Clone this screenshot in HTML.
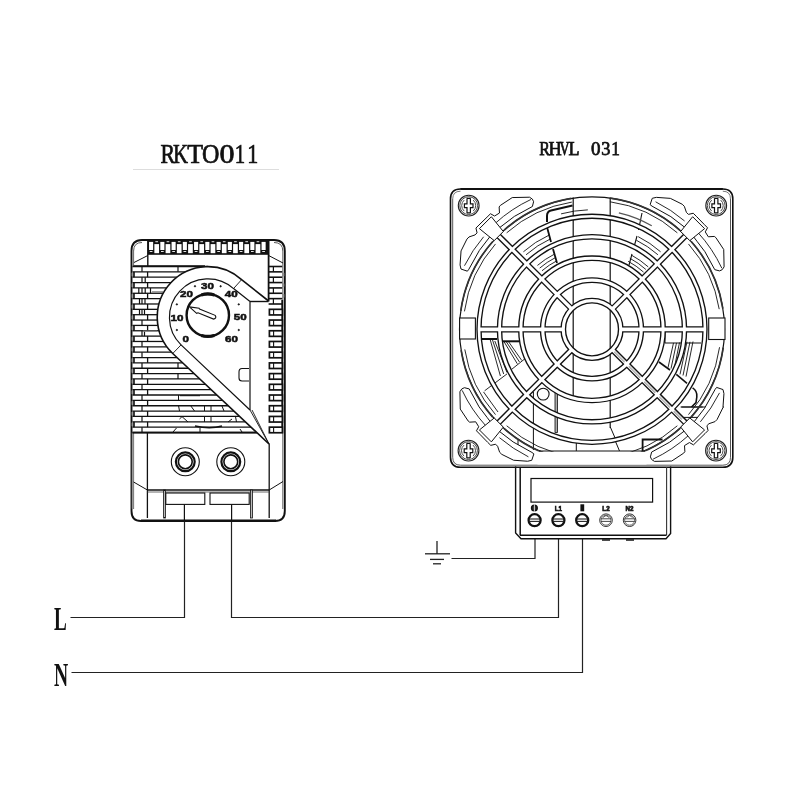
<!DOCTYPE html>
<html><head><meta charset="utf-8"><style>
html,body{margin:0;padding:0;font-family:"Liberation Sans",sans-serif;background:#fff;width:800px;height:800px;overflow:hidden}
svg{display:block;will-change:transform}
.sf{font-family:"Liberation Serif",serif}
</style></head><body>
<svg width="800" height="800" viewBox="0 0 800 800">
<rect width="800" height="800" fill="#fff"/>
<path d="M70.5 617.5 H184.5 V521" stroke="#222" stroke-width="1.2" fill="none"/><path d="M231.5 521 V617.5 H558.5 V539" stroke="#222" stroke-width="1.2" fill="none"/><path d="M71.5 672.5 H582.5 V539" stroke="#222" stroke-width="1.2" fill="none"/><path d="M451.5 558.5 H535 V539" stroke="#222" stroke-width="1.2" fill="none"/><line x1="437" y1="541" x2="437" y2="554" stroke="#222" stroke-width="1.3"/><line x1="425" y1="553.8" x2="450" y2="553.8" stroke="#222" stroke-width="1.3"/><line x1="430" y1="559.4" x2="444" y2="559.4" stroke="#222" stroke-width="1.3"/><line x1="433" y1="563.8" x2="441" y2="563.8" stroke="#222" stroke-width="1.3"/><path d="M131.5 251 Q131.5 240 142 240 H274 Q284.8 240 284.8 251 V511 Q284.8 521 275 521 H141 Q131.5 521 131.5 511 Z" stroke="#111" stroke-width="1.9" fill="none"/><line x1="133.6" y1="251" x2="133.6" y2="266" stroke="#555" stroke-width="0.9"/><line x1="133.6" y1="432" x2="133.6" y2="509" stroke="#555" stroke-width="0.9"/><rect x="131.8" y="432.6" width="1.6" height="76" rx="0" stroke="none" stroke-width="0" fill="#999"/><line x1="282.8" y1="251" x2="282.8" y2="509" stroke="#555" stroke-width="0.9"/><path d="M133.6 251 Q133.6 242.5 142 242.5" stroke="#444" stroke-width="0.9" fill="none"/><path d="M282.8 251 Q282.8 242.5 274 242.5" stroke="#444" stroke-width="0.9" fill="none"/><line x1="147.8" y1="241" x2="147.8" y2="266" stroke="#111" stroke-width="1.4"/><line x1="268.6" y1="241" x2="268.6" y2="301.5" stroke="#111" stroke-width="1.8"/><rect x="147.8" y="240" width="120.8" height="14.8" rx="0" stroke="#111" stroke-width="0" fill="#111"/><rect x="149.05" y="241.9" width="4.1" height="8.1" rx="0" stroke="none" stroke-width="0" fill="#fff"/><rect x="149.75" y="251.0" width="2.7" height="0.9" rx="0" stroke="none" stroke-width="0" fill="#fff"/><rect x="154.35" y="244.1" width="4.7" height="9.1" rx="0" stroke="none" stroke-width="0" fill="#fff"/><rect x="155.35" y="241.3" width="2.7" height="0.9" rx="0" stroke="none" stroke-width="0" fill="#fff"/><rect x="160.3" y="241.9" width="4.1" height="8.1" rx="0" stroke="none" stroke-width="0" fill="#fff"/><rect x="161.0" y="251.0" width="2.7" height="0.9" rx="0" stroke="none" stroke-width="0" fill="#fff"/><rect x="165.6" y="244.1" width="4.7" height="9.1" rx="0" stroke="none" stroke-width="0" fill="#fff"/><rect x="166.6" y="241.3" width="2.7" height="0.9" rx="0" stroke="none" stroke-width="0" fill="#fff"/><rect x="171.55" y="241.9" width="4.1" height="8.1" rx="0" stroke="none" stroke-width="0" fill="#fff"/><rect x="172.25" y="251.0" width="2.7" height="0.9" rx="0" stroke="none" stroke-width="0" fill="#fff"/><rect x="176.85" y="244.1" width="4.7" height="9.1" rx="0" stroke="none" stroke-width="0" fill="#fff"/><rect x="177.85" y="241.3" width="2.7" height="0.9" rx="0" stroke="none" stroke-width="0" fill="#fff"/><rect x="182.8" y="241.9" width="4.1" height="8.1" rx="0" stroke="none" stroke-width="0" fill="#fff"/><rect x="183.5" y="251.0" width="2.7" height="0.9" rx="0" stroke="none" stroke-width="0" fill="#fff"/><rect x="188.1" y="244.1" width="4.7" height="9.1" rx="0" stroke="none" stroke-width="0" fill="#fff"/><rect x="189.1" y="241.3" width="2.7" height="0.9" rx="0" stroke="none" stroke-width="0" fill="#fff"/><rect x="194.05" y="241.9" width="4.1" height="8.1" rx="0" stroke="none" stroke-width="0" fill="#fff"/><rect x="194.75" y="251.0" width="2.7" height="0.9" rx="0" stroke="none" stroke-width="0" fill="#fff"/><rect x="199.35" y="244.1" width="4.7" height="9.1" rx="0" stroke="none" stroke-width="0" fill="#fff"/><rect x="200.35" y="241.3" width="2.7" height="0.9" rx="0" stroke="none" stroke-width="0" fill="#fff"/><rect x="205.3" y="241.9" width="4.1" height="8.1" rx="0" stroke="none" stroke-width="0" fill="#fff"/><rect x="206.0" y="251.0" width="2.7" height="0.9" rx="0" stroke="none" stroke-width="0" fill="#fff"/><rect x="210.6" y="244.1" width="4.7" height="9.1" rx="0" stroke="none" stroke-width="0" fill="#fff"/><rect x="211.6" y="241.3" width="2.7" height="0.9" rx="0" stroke="none" stroke-width="0" fill="#fff"/><rect x="216.55" y="241.9" width="4.1" height="8.1" rx="0" stroke="none" stroke-width="0" fill="#fff"/><rect x="217.25" y="251.0" width="2.7" height="0.9" rx="0" stroke="none" stroke-width="0" fill="#fff"/><rect x="221.85" y="244.1" width="4.7" height="9.1" rx="0" stroke="none" stroke-width="0" fill="#fff"/><rect x="222.85" y="241.3" width="2.7" height="0.9" rx="0" stroke="none" stroke-width="0" fill="#fff"/><rect x="227.8" y="241.9" width="4.1" height="8.1" rx="0" stroke="none" stroke-width="0" fill="#fff"/><rect x="228.5" y="251.0" width="2.7" height="0.9" rx="0" stroke="none" stroke-width="0" fill="#fff"/><rect x="233.1" y="244.1" width="4.7" height="9.1" rx="0" stroke="none" stroke-width="0" fill="#fff"/><rect x="234.1" y="241.3" width="2.7" height="0.9" rx="0" stroke="none" stroke-width="0" fill="#fff"/><rect x="239.05" y="241.9" width="4.1" height="8.1" rx="0" stroke="none" stroke-width="0" fill="#fff"/><rect x="239.75" y="251.0" width="2.7" height="0.9" rx="0" stroke="none" stroke-width="0" fill="#fff"/><rect x="244.35" y="244.1" width="4.7" height="9.1" rx="0" stroke="none" stroke-width="0" fill="#fff"/><rect x="245.35" y="241.3" width="2.7" height="0.9" rx="0" stroke="none" stroke-width="0" fill="#fff"/><rect x="250.3" y="241.9" width="4.1" height="8.1" rx="0" stroke="none" stroke-width="0" fill="#fff"/><rect x="251.0" y="251.0" width="2.7" height="0.9" rx="0" stroke="none" stroke-width="0" fill="#fff"/><rect x="255.6" y="244.1" width="4.7" height="9.1" rx="0" stroke="none" stroke-width="0" fill="#fff"/><rect x="256.6" y="241.3" width="2.7" height="0.9" rx="0" stroke="none" stroke-width="0" fill="#fff"/><rect x="261.55" y="241.9" width="4.1" height="8.1" rx="0" stroke="none" stroke-width="0" fill="#fff"/><rect x="262.25" y="251.0" width="2.7" height="0.9" rx="0" stroke="none" stroke-width="0" fill="#fff"/><line x1="134" y1="262.5" x2="147.8" y2="255.5" stroke="#111" stroke-width="1.0"/><line x1="268.6" y1="255.5" x2="283" y2="263" stroke="#111" stroke-width="1.0"/><line x1="133.6" y1="266" x2="205" y2="266" stroke="#111" stroke-width="1.6"/><line x1="132.5" y1="266.5" x2="207.8" y2="266.5" stroke="#111" stroke-width="1.3"/><line x1="142" y1="266.5" x2="142" y2="271.855" stroke="#111" stroke-width="1.2"/><line x1="178" y1="266.5" x2="178" y2="271.855" stroke="#111" stroke-width="1.2"/><line x1="132.5" y1="271.855" x2="185.57206768500492" y2="271.855" stroke="#111" stroke-width="1.3"/><line x1="147.6" y1="271.855" x2="147.6" y2="277.21" stroke="#111" stroke-width="1.3"/><rect x="133.1" y="271.855" width="1.7" height="5.354999999999961" rx="0" stroke="none" stroke-width="0" fill="#111"/><rect x="131.6" y="272.755" width="1.5" height="3.5549999999999615" rx="0" stroke="none" stroke-width="0" fill="#999"/><line x1="132.5" y1="277.21" x2="176.96090306121144" y2="277.21" stroke="#111" stroke-width="1.3"/><line x1="142" y1="277.21" x2="142" y2="282.565" stroke="#111" stroke-width="1.2"/><line x1="145.2" y1="277.21" x2="145.2" y2="282.565" stroke="#111" stroke-width="1.2"/><line x1="132.5" y1="282.565" x2="171.04858131990005" y2="282.565" stroke="#111" stroke-width="1.3"/><line x1="147.6" y1="282.565" x2="147.6" y2="287.92" stroke="#111" stroke-width="1.3"/><rect x="133.1" y="282.565" width="1.7" height="5.355000000000018" rx="0" stroke="none" stroke-width="0" fill="#111"/><rect x="131.6" y="283.465" width="1.5" height="3.5550000000000184" rx="0" stroke="none" stroke-width="0" fill="#999"/><line x1="132.5" y1="287.92" x2="166.65474997037933" y2="287.92" stroke="#111" stroke-width="1.3"/><line x1="142" y1="287.92" x2="142" y2="293.275" stroke="#111" stroke-width="1.2"/><line x1="138.8" y1="287.92" x2="138.8" y2="293.275" stroke="#111" stroke-width="1.2"/><line x1="145.2" y1="287.92" x2="145.2" y2="293.275" stroke="#111" stroke-width="1.2"/><line x1="150.5" y1="287.92" x2="150.5" y2="293.275" stroke="#111" stroke-width="1.2"/><line x1="132.5" y1="293.275" x2="163.32703770828843" y2="293.275" stroke="#111" stroke-width="1.3"/><line x1="147.6" y1="293.275" x2="147.6" y2="298.63" stroke="#111" stroke-width="1.3"/><rect x="133.1" y="293.275" width="1.7" height="5.355000000000018" rx="0" stroke="none" stroke-width="0" fill="#111"/><rect x="131.6" y="294.17499999999995" width="1.5" height="3.5550000000000184" rx="0" stroke="none" stroke-width="0" fill="#999"/><line x1="132.5" y1="298.63" x2="160.83825918899515" y2="298.63" stroke="#111" stroke-width="1.3"/><line x1="142" y1="298.63" x2="142" y2="303.985" stroke="#111" stroke-width="1.2"/><line x1="139.5" y1="298.63" x2="139.5" y2="303.985" stroke="#111" stroke-width="1.2"/><line x1="145" y1="298.63" x2="145" y2="303.985" stroke="#111" stroke-width="1.2"/><line x1="132.5" y1="303.985" x2="159.05973148412085" y2="303.985" stroke="#111" stroke-width="1.3"/><line x1="147.6" y1="303.985" x2="147.6" y2="309.34000000000003" stroke="#111" stroke-width="1.3"/><rect x="133.1" y="303.985" width="1.7" height="5.355000000000018" rx="0" stroke="none" stroke-width="0" fill="#111"/><rect x="131.6" y="304.885" width="1.5" height="3.5550000000000184" rx="0" stroke="none" stroke-width="0" fill="#999"/><line x1="132.5" y1="309.34000000000003" x2="157.9154292390924" y2="309.34000000000003" stroke="#111" stroke-width="1.3"/><line x1="142" y1="309.34000000000003" x2="142" y2="314.695" stroke="#111" stroke-width="1.2"/><line x1="139.5" y1="309.34000000000003" x2="139.5" y2="314.695" stroke="#111" stroke-width="1.2"/><line x1="144.5" y1="309.34000000000003" x2="144.5" y2="314.695" stroke="#111" stroke-width="1.2"/><line x1="132.5" y1="314.695" x2="157.3621672253853" y2="314.695" stroke="#111" stroke-width="1.3"/><line x1="147.6" y1="314.695" x2="147.6" y2="320.05" stroke="#111" stroke-width="1.3"/><rect x="133.1" y="314.695" width="1.7" height="5.355000000000018" rx="0" stroke="none" stroke-width="0" fill="#111"/><rect x="131.6" y="315.59499999999997" width="1.5" height="3.5550000000000184" rx="0" stroke="none" stroke-width="0" fill="#999"/><line x1="132.5" y1="320.05" x2="157.38048492894842" y2="320.05" stroke="#111" stroke-width="1.3"/><line x1="142" y1="320.05" x2="142" y2="325.405" stroke="#111" stroke-width="1.2"/><line x1="132.5" y1="325.405" x2="157.9710127034474" y2="325.405" stroke="#111" stroke-width="1.3"/><line x1="147.6" y1="325.405" x2="147.6" y2="330.76" stroke="#111" stroke-width="1.3"/><rect x="133.1" y="325.405" width="1.7" height="5.355000000000018" rx="0" stroke="none" stroke-width="0" fill="#111"/><rect x="131.6" y="326.30499999999995" width="1.5" height="3.5550000000000184" rx="0" stroke="none" stroke-width="0" fill="#999"/><line x1="132.5" y1="330.76" x2="159.15458500536766" y2="330.76" stroke="#111" stroke-width="1.3"/><line x1="142" y1="330.76" x2="142" y2="336.115" stroke="#111" stroke-width="1.2"/><line x1="144.5" y1="330.76" x2="144.5" y2="336.115" stroke="#111" stroke-width="1.2"/><line x1="132.5" y1="336.115" x2="160.97615164256575" y2="336.115" stroke="#111" stroke-width="1.3"/><line x1="147.6" y1="336.115" x2="147.6" y2="341.47" stroke="#111" stroke-width="1.3"/><rect x="133.1" y="336.115" width="1.7" height="5.355000000000018" rx="0" stroke="none" stroke-width="0" fill="#111"/><rect x="131.6" y="337.015" width="1.5" height="3.5550000000000184" rx="0" stroke="none" stroke-width="0" fill="#999"/><line x1="132.5" y1="341.47" x2="163.51436914754407" y2="341.47" stroke="#111" stroke-width="1.3"/><line x1="142" y1="341.47" x2="142" y2="346.825" stroke="#111" stroke-width="1.2"/><line x1="132.5" y1="346.825" x2="166.902452701904" y2="346.825" stroke="#111" stroke-width="1.3"/><line x1="147.6" y1="346.825" x2="147.6" y2="352.18" stroke="#111" stroke-width="1.3"/><rect x="133.1" y="346.825" width="1.7" height="5.355000000000018" rx="0" stroke="none" stroke-width="0" fill="#111"/><rect x="131.6" y="347.72499999999997" width="1.5" height="3.5550000000000184" rx="0" stroke="none" stroke-width="0" fill="#999"/><line x1="132.5" y1="352.18" x2="171.3767986030882" y2="352.18" stroke="#111" stroke-width="1.3"/><line x1="142" y1="352.18" x2="142" y2="357.535" stroke="#111" stroke-width="1.2"/><line x1="132.5" y1="357.535" x2="176.98536220217042" y2="357.535" stroke="#111" stroke-width="1.3"/><line x1="147.6" y1="357.535" x2="147.6" y2="362.89" stroke="#111" stroke-width="1.3"/><rect x="133.1" y="357.535" width="1.7" height="5.354999999999961" rx="0" stroke="none" stroke-width="0" fill="#111"/><rect x="131.6" y="358.435" width="1.5" height="3.5549999999999615" rx="0" stroke="none" stroke-width="0" fill="#999"/><line x1="132.5" y1="362.89" x2="182.68406555505743" y2="362.89" stroke="#111" stroke-width="1.3"/><line x1="142" y1="362.89" x2="142" y2="368.245" stroke="#111" stroke-width="1.2"/><line x1="178" y1="362.89" x2="178" y2="368.245" stroke="#111" stroke-width="1.2"/><line x1="132.5" y1="368.245" x2="188.3827689079445" y2="368.245" stroke="#111" stroke-width="1.3"/><line x1="147.6" y1="368.245" x2="147.6" y2="373.6" stroke="#111" stroke-width="1.3"/><rect x="133.1" y="368.245" width="1.7" height="5.355000000000018" rx="0" stroke="none" stroke-width="0" fill="#111"/><rect x="131.6" y="369.145" width="1.5" height="3.5550000000000184" rx="0" stroke="none" stroke-width="0" fill="#999"/><line x1="132.5" y1="373.6" x2="194.08147226083153" y2="373.6" stroke="#111" stroke-width="1.3"/><line x1="142" y1="373.6" x2="142" y2="378.95500000000004" stroke="#111" stroke-width="1.2"/><line x1="178" y1="373.6" x2="178" y2="378.95500000000004" stroke="#111" stroke-width="1.2"/><line x1="132.5" y1="378.95500000000004" x2="199.7801756137186" y2="378.95500000000004" stroke="#111" stroke-width="1.3"/><line x1="147.6" y1="378.95500000000004" x2="147.6" y2="384.31" stroke="#111" stroke-width="1.3"/><rect x="133.1" y="378.95500000000004" width="1.7" height="5.354999999999961" rx="0" stroke="none" stroke-width="0" fill="#111"/><rect x="131.6" y="379.855" width="1.5" height="3.5549999999999615" rx="0" stroke="none" stroke-width="0" fill="#999"/><line x1="132.5" y1="384.31" x2="205.47887896660558" y2="384.31" stroke="#111" stroke-width="1.3"/><line x1="142" y1="384.31" x2="142" y2="389.665" stroke="#111" stroke-width="1.2"/><line x1="132.5" y1="389.665" x2="211.17758231949264" y2="389.665" stroke="#111" stroke-width="1.3"/><line x1="147.6" y1="389.665" x2="147.6" y2="395.02" stroke="#111" stroke-width="1.3"/><rect x="133.1" y="389.665" width="1.7" height="5.354999999999961" rx="0" stroke="none" stroke-width="0" fill="#111"/><rect x="131.6" y="390.565" width="1.5" height="3.5549999999999615" rx="0" stroke="none" stroke-width="0" fill="#999"/><line x1="132.5" y1="395.02" x2="216.87628567237962" y2="395.02" stroke="#111" stroke-width="1.3"/><line x1="142" y1="395.02" x2="142" y2="400.375" stroke="#111" stroke-width="1.2"/><line x1="132.5" y1="400.375" x2="222.5749890252667" y2="400.375" stroke="#111" stroke-width="1.3"/><line x1="147.6" y1="400.375" x2="147.6" y2="405.73" stroke="#111" stroke-width="1.3"/><rect x="133.1" y="400.375" width="1.7" height="5.355000000000018" rx="0" stroke="none" stroke-width="0" fill="#111"/><rect x="131.6" y="401.275" width="1.5" height="3.5550000000000184" rx="0" stroke="none" stroke-width="0" fill="#999"/><line x1="132.5" y1="405.73" x2="228.27369237815373" y2="405.73" stroke="#111" stroke-width="1.3"/><line x1="142" y1="405.73" x2="142" y2="411.08500000000004" stroke="#111" stroke-width="1.2"/><line x1="132.5" y1="411.08500000000004" x2="233.9723957310408" y2="411.08500000000004" stroke="#111" stroke-width="1.3"/><line x1="147.6" y1="411.08500000000004" x2="147.6" y2="416.44" stroke="#111" stroke-width="1.3"/><rect x="133.1" y="411.08500000000004" width="1.7" height="5.354999999999961" rx="0" stroke="none" stroke-width="0" fill="#111"/><rect x="131.6" y="411.985" width="1.5" height="3.5549999999999615" rx="0" stroke="none" stroke-width="0" fill="#999"/><line x1="132.5" y1="416.44" x2="239.6710990839278" y2="416.44" stroke="#111" stroke-width="1.3"/><line x1="142" y1="416.44" x2="142" y2="421.795" stroke="#111" stroke-width="1.2"/><line x1="132.5" y1="421.795" x2="245.36980243681484" y2="421.795" stroke="#111" stroke-width="1.3"/><line x1="147.6" y1="421.795" x2="147.6" y2="427.15" stroke="#111" stroke-width="1.3"/><rect x="133.1" y="421.795" width="1.7" height="5.354999999999961" rx="0" stroke="none" stroke-width="0" fill="#111"/><rect x="131.6" y="422.695" width="1.5" height="3.5549999999999615" rx="0" stroke="none" stroke-width="0" fill="#999"/><line x1="132.5" y1="427.15" x2="251.06850578970185" y2="427.15" stroke="#111" stroke-width="1.3"/><line x1="142" y1="427.15" x2="142" y2="432.505" stroke="#111" stroke-width="1.2"/><line x1="132.5" y1="432.505" x2="256.7672091425889" y2="432.505" stroke="#111" stroke-width="1.3"/><line x1="132.5" y1="432.6" x2="269" y2="432.6" stroke="#111" stroke-width="1.8"/><rect x="152" y="291.2" width="11" height="1.6" rx="0" stroke="none" stroke-width="0" fill="#888"/><rect x="143" y="330.6" width="14" height="1.2" rx="0" stroke="none" stroke-width="0" fill="#888"/><line x1="178.5" y1="395" x2="178.5" y2="400.3" stroke="#111" stroke-width="1.0"/><line x1="180" y1="395.7" x2="200" y2="395.7" stroke="#111" stroke-width="1.0"/><line x1="178.5" y1="405.5" x2="179.5" y2="411" stroke="#111" stroke-width="1.0"/><line x1="190.5" y1="405.5" x2="194.5" y2="411" stroke="#111" stroke-width="1.0"/><line x1="204.5" y1="406" x2="204.5" y2="411" stroke="#111" stroke-width="1.0"/><line x1="211" y1="406" x2="211" y2="411" stroke="#111" stroke-width="1.0"/><line x1="224" y1="411" x2="222" y2="406" stroke="#111" stroke-width="1.0"/><line x1="179.5" y1="419" x2="182" y2="416.6" stroke="#111" stroke-width="1.0"/><line x1="182" y1="416.6" x2="188" y2="422" stroke="#111" stroke-width="1.0"/><line x1="204.5" y1="416.6" x2="204.5" y2="422" stroke="#111" stroke-width="1.0"/><line x1="211" y1="416.6" x2="211" y2="422" stroke="#111" stroke-width="1.0"/><line x1="228" y1="422" x2="232" y2="419" stroke="#111" stroke-width="1.0"/><line x1="235.5" y1="416.6" x2="236.5" y2="422" stroke="#111" stroke-width="1.0"/><line x1="173" y1="432" x2="176.5" y2="428" stroke="#111" stroke-width="1.0"/><line x1="200" y1="428" x2="200" y2="432" stroke="#111" stroke-width="1.0"/><line x1="240" y1="429" x2="242" y2="432" stroke="#111" stroke-width="1.0"/><path d="M195 426 Q210 429.5 222 426" stroke="#111" stroke-width="1.6" fill="none"/><path d="M269 444 L172.72 353.53 A50.5 50.5 0 0 1 241.59 279.67 L268.6 301" stroke="#111" stroke-width="1.6" fill="#fff"/><path d="M250 410 L181.06 344.89 A38.5 38.5 0 0 1 233.56 288.59 L250 301.5" stroke="#111" stroke-width="1.2" fill="none"/><line x1="181.05565273732861" y1="344.89458231303803" x2="172.71975229182064" y2="353.5266599171019" stroke="#111" stroke-width="0.9"/><line x1="233.56152834481605" y1="288.5889242191203" x2="241.59109562112235" y2="279.67118631339156" stroke="#111" stroke-width="0.9"/><line x1="250" y1="301.5" x2="268.6" y2="301.5" stroke="#111" stroke-width="1.4"/><line x1="250" y1="301.5" x2="250" y2="410" stroke="#111" stroke-width="1.2"/><path d="M250 410 L269 444 L252 410" stroke="#111" stroke-width="0.9" fill="none"/><path d="M249 368.5 H242 Q239 368.5 239 372 V378 Q239 381 242 381 H249" stroke="#111" stroke-width="1.1" fill="none"/><circle cx="207.8" cy="315.2" r="21.2" stroke="#111" stroke-width="2.4" fill="none"/><path d="M201.3 295.0 A21.2 21.2 0 0 1 214.3 295.0" stroke="#111" stroke-width="3.2" fill="none"/><path d="M201.3 335.4 A21.2 21.2 0 0 0 214.3 335.4" stroke="#111" stroke-width="3.2" fill="none"/><path transform="translate(189.4 306.9) rotate(22.4)" d="M0 0 L9.5 -2.4 L10.2 -1.9 L27 -2.0 Q30 0 27 2.1 L10.2 2.1 L9.2 3.2 Z" stroke="#111" stroke-width="1.1" fill="#fff"/><text x="0" y="2.5" transform="translate(185.8 339.3) scale(1.13 0.92)" style="font-family:&quot;Liberation Sans&quot;,sans-serif" font-size="10.3" font-weight="bold" text-anchor="middle" fill="#111" stroke="#111" stroke-width="0.55">0</text><text x="0" y="2.5" transform="translate(177 318.3) scale(1.13 0.92)" style="font-family:&quot;Liberation Sans&quot;,sans-serif" font-size="10.3" font-weight="bold" text-anchor="middle" fill="#111" stroke="#111" stroke-width="0.55">10</text><text x="0" y="2.5" transform="translate(186.6 294.6) scale(1.13 0.92)" style="font-family:&quot;Liberation Sans&quot;,sans-serif" font-size="10.3" font-weight="bold" text-anchor="middle" fill="#111" stroke="#111" stroke-width="0.55">20</text><text x="0" y="2.5" transform="translate(207.5 286.2) scale(1.13 0.92)" style="font-family:&quot;Liberation Sans&quot;,sans-serif" font-size="10.3" font-weight="bold" text-anchor="middle" fill="#111" stroke="#111" stroke-width="0.55">30</text><text x="0" y="2.5" transform="translate(231.2 294.6) scale(1.13 0.92)" style="font-family:&quot;Liberation Sans&quot;,sans-serif" font-size="10.3" font-weight="bold" text-anchor="middle" fill="#111" stroke="#111" stroke-width="0.55">40</text><text x="0" y="2.5" transform="translate(240.3 317.2) scale(1.13 0.92)" style="font-family:&quot;Liberation Sans&quot;,sans-serif" font-size="10.3" font-weight="bold" text-anchor="middle" fill="#111" stroke="#111" stroke-width="0.55">50</text><text x="0" y="2.5" transform="translate(231.5 339.2) scale(1.13 0.92)" style="font-family:&quot;Liberation Sans&quot;,sans-serif" font-size="10.3" font-weight="bold" text-anchor="middle" fill="#111" stroke="#111" stroke-width="0.55">60</text><circle cx="176.8500356608719" cy="330.0198949842305" r="0.7" stroke="#111" stroke-width="0.8" fill="#111"/><circle cx="176.8500356608719" cy="304.38010501576946" r="0.7" stroke="#111" stroke-width="0.8" fill="#111"/><circle cx="194.9801050157695" cy="286.2500356608719" r="0.7" stroke="#111" stroke-width="0.8" fill="#111"/><circle cx="220.61989498423054" cy="286.2500356608719" r="0.7" stroke="#111" stroke-width="0.8" fill="#111"/><circle cx="238.74996433912813" cy="304.3801050157695" r="0.7" stroke="#111" stroke-width="0.8" fill="#111"/><circle cx="238.74996433912813" cy="330.0198949842305" r="0.7" stroke="#111" stroke-width="0.8" fill="#111"/><line x1="147.4" y1="432.6" x2="147.4" y2="518" stroke="#111" stroke-width="1.3"/><line x1="269.2" y1="443.8" x2="269.2" y2="518" stroke="#111" stroke-width="1.3"/><line x1="133.6" y1="482" x2="147.4" y2="490" stroke="#111" stroke-width="1.0"/><line x1="283" y1="481.5" x2="269.2" y2="490" stroke="#111" stroke-width="1.0"/><line x1="147.4" y1="490" x2="269.2" y2="490" stroke="#111" stroke-width="1.6"/><line x1="147.4" y1="492" x2="269.2" y2="492" stroke="#444" stroke-width="0.8"/><rect x="163.6" y="490" width="1.9" height="28" rx="0" stroke="#111" stroke-width="0.8" fill="#bbb"/><rect x="250.5" y="490" width="1.9" height="28" rx="0" stroke="#111" stroke-width="0.8" fill="#bbb"/><rect x="165.8" y="493" width="39" height="11.4" rx="0" stroke="#111" stroke-width="1.1" fill="none"/><rect x="210" y="493" width="39.2" height="11.4" rx="0" stroke="#111" stroke-width="1.1" fill="none"/><line x1="184.4" y1="504.4" x2="184.4" y2="521" stroke="#111" stroke-width="1.2"/><line x1="231.6" y1="504.4" x2="231.6" y2="521" stroke="#111" stroke-width="1.2"/><line x1="141" y1="520.8" x2="276" y2="520.8" stroke="#111" stroke-width="2.4"/><circle cx="185.3" cy="461.8" r="14.0" stroke="#111" stroke-width="1.1" fill="none"/><circle cx="185.3" cy="461.8" r="9.4" stroke="#111" stroke-width="2.2" fill="none"/><circle cx="185.3" cy="461.8" r="6.9" stroke="#111" stroke-width="1.6" fill="none"/><circle cx="230.8" cy="461.8" r="14.0" stroke="#111" stroke-width="1.1" fill="none"/><circle cx="230.8" cy="461.8" r="9.4" stroke="#111" stroke-width="2.2" fill="none"/><circle cx="230.8" cy="461.8" r="6.9" stroke="#111" stroke-width="1.6" fill="none"/><line x1="282.2" y1="300" x2="282.2" y2="433" stroke="#111" stroke-width="1.8"/><line x1="268.6" y1="266.5" x2="282.2" y2="266.5" stroke="#111" stroke-width="1.6"/><line x1="273.4" y1="266.5" x2="273.4" y2="271.855" stroke="#111" stroke-width="1.2"/><line x1="268.6" y1="271.855" x2="282.2" y2="271.855" stroke="#111" stroke-width="1.6"/><rect x="282.6" y="273.055" width="1.5" height="2.9549999999999614" rx="0" stroke="#888" stroke-width="0.5" fill="#999"/><line x1="268.6" y1="277.21" x2="282.2" y2="277.21" stroke="#111" stroke-width="1.6"/><line x1="273.4" y1="277.21" x2="273.4" y2="282.565" stroke="#111" stroke-width="1.2"/><line x1="268.6" y1="282.565" x2="282.2" y2="282.565" stroke="#111" stroke-width="1.6"/><rect x="282.6" y="283.765" width="1.5" height="2.9550000000000183" rx="0" stroke="#888" stroke-width="0.5" fill="#999"/><line x1="268.6" y1="287.92" x2="282.2" y2="287.92" stroke="#111" stroke-width="1.6"/><line x1="273.4" y1="287.92" x2="273.4" y2="293.275" stroke="#111" stroke-width="1.2"/><line x1="268.6" y1="293.275" x2="282.2" y2="293.275" stroke="#111" stroke-width="1.6"/><rect x="282.6" y="294.47499999999997" width="1.5" height="2.9550000000000183" rx="0" stroke="#888" stroke-width="0.5" fill="#999"/><line x1="268.6" y1="298.63" x2="282.2" y2="298.63" stroke="#111" stroke-width="1.6"/><line x1="273.4" y1="298.63" x2="273.4" y2="303.985" stroke="#111" stroke-width="1.2"/><rect x="269.4" y="309.34000000000003" width="13.0" height="5.6" rx="0" stroke="#111" stroke-width="1.7" fill="#fff"/><line x1="273.6" y1="309.34000000000003" x2="273.6" y2="314.94000000000005" stroke="#111" stroke-width="1.1"/><rect x="269.4" y="320.05" width="13.0" height="5.6" rx="0" stroke="#111" stroke-width="1.7" fill="#fff"/><line x1="273.6" y1="320.05" x2="273.6" y2="325.65000000000003" stroke="#111" stroke-width="1.1"/><rect x="269.4" y="330.76" width="13.0" height="5.6" rx="0" stroke="#111" stroke-width="1.7" fill="#fff"/><line x1="273.6" y1="330.76" x2="273.6" y2="336.36" stroke="#111" stroke-width="1.1"/><rect x="269.4" y="341.47" width="13.0" height="5.6" rx="0" stroke="#111" stroke-width="1.7" fill="#fff"/><line x1="273.6" y1="341.47" x2="273.6" y2="347.07000000000005" stroke="#111" stroke-width="1.1"/><rect x="269.4" y="352.18" width="13.0" height="5.6" rx="0" stroke="#111" stroke-width="1.7" fill="#fff"/><line x1="273.6" y1="352.18" x2="273.6" y2="357.78000000000003" stroke="#111" stroke-width="1.1"/><rect x="269.4" y="362.89" width="13.0" height="5.6" rx="0" stroke="#111" stroke-width="1.7" fill="#fff"/><line x1="273.6" y1="362.89" x2="273.6" y2="368.49" stroke="#111" stroke-width="1.1"/><rect x="269.4" y="373.6" width="13.0" height="5.6" rx="0" stroke="#111" stroke-width="1.7" fill="#fff"/><line x1="273.6" y1="373.6" x2="273.6" y2="379.20000000000005" stroke="#111" stroke-width="1.1"/><rect x="269.4" y="384.31" width="13.0" height="5.6" rx="0" stroke="#111" stroke-width="1.7" fill="#fff"/><line x1="273.6" y1="384.31" x2="273.6" y2="389.91" stroke="#111" stroke-width="1.1"/><rect x="269.4" y="395.02" width="13.0" height="5.6" rx="0" stroke="#111" stroke-width="1.7" fill="#fff"/><line x1="273.6" y1="395.02" x2="273.6" y2="400.62" stroke="#111" stroke-width="1.1"/><rect x="269.4" y="405.73" width="13.0" height="5.6" rx="0" stroke="#111" stroke-width="1.7" fill="#fff"/><line x1="273.6" y1="405.73" x2="273.6" y2="411.33000000000004" stroke="#111" stroke-width="1.1"/><rect x="269.4" y="416.44" width="13.0" height="5.6" rx="0" stroke="#111" stroke-width="1.7" fill="#fff"/><line x1="273.6" y1="416.44" x2="273.6" y2="422.04" stroke="#111" stroke-width="1.1"/><rect x="269.4" y="427.15" width="13.0" height="5.6" rx="0" stroke="#111" stroke-width="1.7" fill="#fff"/><line x1="273.6" y1="427.15" x2="273.6" y2="432.75" stroke="#111" stroke-width="1.1"/><line x1="268.6" y1="304" x2="282.2" y2="304" stroke="#111" stroke-width="1.6"/><path d="M450.5 199 Q450.5 189 460.5 189 H722.8 Q732.8 189 732.8 199 V457.3 Q732.8 467.3 722.8 467.3 H460.5 Q450.5 467.3 450.5 457.3 Z" stroke="#111" stroke-width="1.6" fill="none"/><line x1="460.5" y1="189" x2="722.8" y2="189" stroke="#111" stroke-width="2.0"/><line x1="452.7" y1="199" x2="452.7" y2="457.3" stroke="#444" stroke-width="0.9"/><line x1="730.5" y1="199" x2="730.5" y2="457.3" stroke="#444" stroke-width="0.9"/><path d="M452.7 199 Q452.7 191.2 460.5 191.2" stroke="#555" stroke-width="0.8" fill="none"/><path d="M730.5 199 Q730.5 191.2 722.8 191.2" stroke="#555" stroke-width="0.8" fill="none"/><path d="M452.7 457.3 Q452.7 465.2 460.5 465.2 H722.8 Q730.5 465.2 730.5 457.3" stroke="#444" stroke-width="0.9" fill="none"/><circle cx="468.7" cy="205.6" r="10.4" stroke="#222" stroke-width="1.1" fill="none"/><circle cx="468.7" cy="205.6" r="8.9" stroke="#333" stroke-width="0.9" fill="none"/><path d="M467.0 198.29999999999998 V203.79999999999998 H464.4 V207.7 H467.0 V212.9 M470.4 198.29999999999998 V203.79999999999998 H473.0 V207.7 H470.4 V212.9 M467.0 198.29999999999998 H470.4 M467.0 212.9 H470.4" stroke="#111" stroke-width="1.2" fill="none"/><path d="M464.2 200.1 A7.3 7.3 0 0 0 464.2 211.1 M473.2 200.1 A7.3 7.3 0 0 1 473.2 211.1" stroke="#333" stroke-width="0.9" fill="none"/><circle cx="716.2" cy="205.6" r="10.4" stroke="#222" stroke-width="1.1" fill="none"/><circle cx="716.2" cy="205.6" r="8.9" stroke="#333" stroke-width="0.9" fill="none"/><path d="M714.5 198.29999999999998 V203.79999999999998 H711.9000000000001 V207.7 H714.5 V212.9 M717.9000000000001 198.29999999999998 V203.79999999999998 H720.5 V207.7 H717.9000000000001 V212.9 M714.5 198.29999999999998 H717.9000000000001 M714.5 212.9 H717.9000000000001" stroke="#111" stroke-width="1.2" fill="none"/><path d="M711.7 200.1 A7.3 7.3 0 0 0 711.7 211.1 M720.7 200.1 A7.3 7.3 0 0 1 720.7 211.1" stroke="#333" stroke-width="0.9" fill="none"/><circle cx="468.5" cy="450.6" r="10.4" stroke="#222" stroke-width="1.1" fill="none"/><circle cx="468.5" cy="450.6" r="8.9" stroke="#333" stroke-width="0.9" fill="none"/><path d="M466.8 443.3 V448.8 H464.2 V452.70000000000005 H466.8 V457.90000000000003 M470.2 443.3 V448.8 H472.8 V452.70000000000005 H470.2 V457.90000000000003 M466.8 443.3 H470.2 M466.8 457.90000000000003 H470.2" stroke="#111" stroke-width="1.2" fill="none"/><path d="M464.0 445.1 A7.3 7.3 0 0 0 464.0 456.1 M473.0 445.1 A7.3 7.3 0 0 1 473.0 456.1" stroke="#333" stroke-width="0.9" fill="none"/><circle cx="716" cy="450.6" r="10.4" stroke="#222" stroke-width="1.1" fill="none"/><circle cx="716" cy="450.6" r="8.9" stroke="#333" stroke-width="0.9" fill="none"/><path d="M714.3 443.3 V448.8 H711.7 V452.70000000000005 H714.3 V457.90000000000003 M717.7 443.3 V448.8 H720.3 V452.70000000000005 H717.7 V457.90000000000003 M714.3 443.3 H717.7 M714.3 457.90000000000003 H717.7" stroke="#111" stroke-width="1.2" fill="none"/><path d="M711.5 445.1 A7.3 7.3 0 0 0 711.5 456.1 M720.5 445.1 A7.3 7.3 0 0 1 720.5 456.1" stroke="#333" stroke-width="0.9" fill="none"/><circle cx="592" cy="329.3" r="132.5" stroke="#111" stroke-width="1.2" fill="none"/><line x1="573.2" y1="197.5" x2="573.2" y2="396" stroke="#111" stroke-width="1.2"/><line x1="576.3" y1="442" x2="576.3" y2="451" stroke="#111" stroke-width="1.0"/><line x1="610.2" y1="197.5" x2="610.2" y2="428" stroke="#111" stroke-width="1.2"/><path d="M547 222 V216 Q547 211.5 551 210.5 L572.5 205.5" stroke="#111" stroke-width="2.0" fill="none"/><line x1="547" y1="227" x2="551" y2="242" stroke="#111" stroke-width="1.8"/><line x1="553" y1="249" x2="557" y2="263" stroke="#111" stroke-width="1.8"/><path d="M526.07 254.78 A99.5 99.5 0 0 1 550.74 238.76" stroke="#111" stroke-width="0.9" fill="none"/><path d="M523.42 251.78 A103.5 103.5 0 0 1 549.08 235.12" stroke="#111" stroke-width="0.9" fill="none"/><path d="M541.99 270.75 A77 77 0 0 1 557.04 260.69" stroke="#111" stroke-width="0.9" fill="none"/><path d="M539.72 268.09 A80.5 80.5 0 0 1 555.45 257.57" stroke="#111" stroke-width="0.9" fill="none"/><path d="M537.45 265.43 A84 84 0 0 1 553.86 254.46" stroke="#111" stroke-width="0.9" fill="none"/><line x1="642" y1="213" x2="638.5" y2="230" stroke="#111" stroke-width="1.1"/><line x1="637" y1="236" x2="633.5" y2="249" stroke="#111" stroke-width="1.1"/><line x1="632" y1="254" x2="629" y2="265" stroke="#111" stroke-width="1.1"/><path d="M636.40 240.25 A99.5 99.5 0 0 1 657.93 254.78" stroke="#111" stroke-width="0.9" fill="none"/><path d="M638.18 236.67 A103.5 103.5 0 0 1 660.58 251.78" stroke="#111" stroke-width="0.9" fill="none"/><path d="M628.15 261.31 A77 77 0 0 1 643.52 272.08" stroke="#111" stroke-width="0.9" fill="none"/><path d="M629.79 258.22 A80.5 80.5 0 0 1 645.87 269.48" stroke="#111" stroke-width="0.9" fill="none"/><path d="M631.44 255.13 A84 84 0 0 1 648.21 266.88" stroke="#111" stroke-width="0.9" fill="none"/><path d="M561.07 213.87 A119.5 119.5 0 0 1 587.83 209.87" stroke="#111" stroke-width="0.9" fill="none"/><path d="M618.88 212.86 A119.5 119.5 0 0 1 651.75 225.81" stroke="#555" stroke-width="1.3" fill="none"/><line x1="481.3" y1="339" x2="497" y2="339" stroke="#111" stroke-width="2.0"/><line x1="502.6" y1="341.3" x2="519.5" y2="341.3" stroke="#111" stroke-width="2.0"/><line x1="490.3" y1="340" x2="500.4" y2="376" stroke="#111" stroke-width="0.9"/><line x1="492.5" y1="340" x2="503.7" y2="374" stroke="#111" stroke-width="0.9"/><line x1="494.8" y1="341" x2="507" y2="372.5" stroke="#111" stroke-width="0.9"/><line x1="503.8" y1="341.3" x2="517.3" y2="363.8" stroke="#111" stroke-width="0.9"/><line x1="506" y1="341.3" x2="519.5" y2="362" stroke="#111" stroke-width="0.9"/><line x1="508.3" y1="341.3" x2="521.8" y2="360.5" stroke="#111" stroke-width="0.9"/><line x1="484.6" y1="390.8" x2="507" y2="373.9" stroke="#111" stroke-width="0.9"/><line x1="511.6" y1="369.4" x2="525" y2="358.7" stroke="#111" stroke-width="0.9"/><line x1="483.5" y1="391.9" x2="498" y2="412" stroke="#111" stroke-width="0.9"/><circle cx="543.2" cy="394.1" r="5.9" stroke="#111" stroke-width="1.1" fill="none"/><rect x="555" y="392" width="2.6" height="40.5" rx="0" stroke="#111" stroke-width="0.8" fill="#aaa"/><line x1="533.4" y1="392" x2="533.4" y2="450" stroke="#111" stroke-width="1.0"/><line x1="518" y1="440" x2="518" y2="461" stroke="#111" stroke-width="1.0"/><line x1="665" y1="343" x2="701" y2="343" stroke="#111" stroke-width="1.2"/><line x1="665" y1="331" x2="665" y2="343" stroke="#111" stroke-width="1.0"/><line x1="673.5" y1="342.9" x2="668" y2="367.6" stroke="#111" stroke-width="0.9"/><line x1="676.5" y1="342.9" x2="671" y2="368.6" stroke="#111" stroke-width="0.9"/><line x1="679.5" y1="342.5" x2="674" y2="369.6" stroke="#111" stroke-width="0.9"/><line x1="687" y1="341.8" x2="680" y2="374.4" stroke="#111" stroke-width="0.9"/><line x1="690" y1="341.8" x2="683" y2="375.5" stroke="#111" stroke-width="0.9"/><line x1="693" y1="341.5" x2="686" y2="376.6" stroke="#111" stroke-width="0.9"/><line x1="658.9" y1="362" x2="670" y2="370" stroke="#111" stroke-width="1.6"/><line x1="676.3" y1="374.4" x2="687" y2="383.4" stroke="#111" stroke-width="1.6"/><path d="M692.6 387.9 Q697.5 391 696.8 397 L696 402.5 L691.5 407" stroke="#111" stroke-width="1.6" fill="none"/><line x1="681.4" y1="407" x2="702.7" y2="407" stroke="#111" stroke-width="1.0"/><line x1="680.6" y1="407" x2="724" y2="407" stroke="#111" stroke-width="1.1"/><line x1="684" y1="417.4" x2="707.8" y2="417.4" stroke="#111" stroke-width="1.0"/><rect x="707" y="409" width="3.5" height="11" rx="0" stroke="#111" stroke-width="1.0" fill="#fff"/><path d="M697 423 L701 419.5 L705 423.5 L701 427 Z" stroke="#111" stroke-width="1.0" fill="#fff"/><path d="M642.6 451 V439.5 H662.5" stroke="#111" stroke-width="1.8" fill="none"/><line x1="610.3" y1="427" x2="615.3" y2="438.5" stroke="#111" stroke-width="1.0"/><line x1="615.3" y1="441" x2="619.5" y2="451" stroke="#111" stroke-width="1.0"/><circle cx="592" cy="329.3" r="28.75" stroke="#111" stroke-width="5.85" fill="none"/><circle cx="592" cy="329.3" r="49.25" stroke="#111" stroke-width="5.85" fill="none"/><circle cx="592" cy="329.3" r="71.15" stroke="#111" stroke-width="5.649999999999997" fill="none"/><circle cx="592" cy="329.3" r="92.5" stroke="#111" stroke-width="5.549999999999988" fill="none"/><circle cx="592" cy="329.3" r="113.0" stroke="#111" stroke-width="5.35" fill="none"/><line x1="620.00" y1="329.30" x2="705.00" y2="329.30" stroke="#111" stroke-width="6.35"/><line x1="564.00" y1="329.30" x2="479.00" y2="329.30" stroke="#111" stroke-width="6.35"/><line x1="611.80" y1="349.10" x2="688.17" y2="425.47" stroke="#111" stroke-width="5.949999999999999"/><line x1="572.20" y1="349.10" x2="495.83" y2="425.47" stroke="#111" stroke-width="5.949999999999999"/><line x1="572.20" y1="309.50" x2="495.83" y2="233.13" stroke="#111" stroke-width="5.949999999999999"/><line x1="611.80" y1="309.50" x2="688.17" y2="233.13" stroke="#111" stroke-width="5.949999999999999"/><circle cx="592" cy="329.3" r="28.75" stroke="#fff" stroke-width="3.15" fill="none"/><circle cx="592" cy="329.3" r="49.25" stroke="#fff" stroke-width="3.15" fill="none"/><circle cx="592" cy="329.3" r="71.15" stroke="#fff" stroke-width="2.949999999999997" fill="none"/><circle cx="592" cy="329.3" r="92.5" stroke="#fff" stroke-width="2.8499999999999885" fill="none"/><circle cx="592" cy="329.3" r="113.0" stroke="#fff" stroke-width="2.65" fill="none"/><line x1="620.70" y1="329.30" x2="704.40" y2="329.30" stroke="#fff" stroke-width="3.65"/><line x1="563.30" y1="329.30" x2="479.60" y2="329.30" stroke="#fff" stroke-width="3.65"/><line x1="612.29" y1="349.59" x2="687.74" y2="425.04" stroke="#fff" stroke-width="3.2499999999999996"/><line x1="571.71" y1="349.59" x2="496.26" y2="425.04" stroke="#fff" stroke-width="3.2499999999999996"/><line x1="571.71" y1="309.01" x2="496.26" y2="233.56" stroke="#fff" stroke-width="3.2499999999999996"/><line x1="612.29" y1="309.01" x2="687.74" y2="233.56" stroke="#fff" stroke-width="3.2499999999999996"/><rect x="459.6" y="318" width="15.8" height="21" rx="0" stroke="#111" stroke-width="1.1" fill="#fff"/><rect x="708.7" y="318" width="16.3" height="21.5" rx="0" stroke="#111" stroke-width="1.1" fill="#fff"/><path d="M460.99 269.04 L460.06 264.95 L461.06 250.93 L466.93 239.10 L469.01 236.96 L475.03 234.92 L477.09 232.88 L475.95 228.06 L478.97 225.00 L487.05 217.15 L490.49 213.76 L494.58 216.03 L499.49 213.00 L499.13 206.95 L500.34 205.43 L512.22 197.57 L529.56 197.21 L532.39 199.10 L533.60 201.73 L532.38 206.51 L514.40 216.39 L503.94 224.35 L498.58 228.41 L491.07 235.18 L479.37 250.43 L468.87 269.24 L467.38 271.19 Z" stroke="#111" stroke-width="1.0" fill="#fff"/><path d="M495.24 223.33 A143.5 143.5 0 0 1 530.90 199.46" stroke="#111" stroke-width="0.9" fill="none"/><path d="M464.47 265.72 A142.5 142.5 0 0 1 483.64 236.75" stroke="#111" stroke-width="0.9" fill="none"/><path d="M494.21 240.63 L479.43 228.65 L491.35 216.73 L503.33 231.51 Z" stroke="#111" stroke-width="1.0" fill="#fff"/><path d="M652.26 198.29 L656.35 197.36 L670.37 198.36 L682.20 204.23 L684.34 206.31 L686.38 212.33 L688.42 214.39 L693.24 213.25 L696.30 216.27 L704.15 224.35 L707.54 227.79 L705.27 231.88 L708.30 236.79 L714.35 236.43 L715.87 237.64 L723.73 249.52 L724.09 266.86 L722.20 269.69 L719.57 270.90 L714.79 269.68 L704.91 251.70 L696.95 241.24 L692.89 235.88 L686.12 228.37 L670.87 216.67 L652.06 206.17 L650.11 204.68 Z" stroke="#111" stroke-width="1.0" fill="#fff"/><path d="M697.97 232.54 A143.5 143.5 0 0 1 721.84 268.20" stroke="#111" stroke-width="0.9" fill="none"/><path d="M655.58 201.77 A142.5 142.5 0 0 1 684.55 220.94" stroke="#111" stroke-width="0.9" fill="none"/><path d="M680.67 231.51 L692.65 216.73 L704.57 228.65 L689.79 240.63 Z" stroke="#111" stroke-width="1.0" fill="#fff"/><path d="M723.01 389.56 L723.94 393.65 L722.94 407.67 L717.07 419.50 L714.99 421.64 L708.97 423.68 L706.91 425.72 L708.05 430.54 L705.03 433.60 L696.95 441.45 L693.51 444.84 L689.42 442.57 L684.51 445.60 L684.87 451.65 L683.66 453.17 L671.78 461.03 L654.44 461.39 L651.61 459.50 L650.40 456.87 L651.62 452.09 L669.60 442.21 L680.06 434.25 L685.42 430.19 L692.93 423.42 L704.63 408.17 L715.13 389.36 L716.62 387.41 Z" stroke="#111" stroke-width="1.0" fill="#fff"/><path d="M688.76 435.27 A143.5 143.5 0 0 1 653.10 459.14" stroke="#111" stroke-width="0.9" fill="none"/><path d="M719.53 392.88 A142.5 142.5 0 0 1 700.36 421.85" stroke="#111" stroke-width="0.9" fill="none"/><path d="M689.79 417.97 L704.57 429.95 L692.65 441.87 L680.67 427.09 Z" stroke="#111" stroke-width="1.0" fill="#fff"/><path d="M531.74 460.31 L527.65 461.24 L513.63 460.24 L501.80 454.37 L499.66 452.29 L497.62 446.27 L495.58 444.21 L490.76 445.35 L487.70 442.33 L479.85 434.25 L476.46 430.81 L478.73 426.72 L475.70 421.81 L469.65 422.17 L468.13 420.96 L460.27 409.08 L459.91 391.74 L461.80 388.91 L464.43 387.70 L469.21 388.92 L479.09 406.90 L487.05 417.36 L491.11 422.72 L497.88 430.23 L513.13 441.93 L531.94 452.43 L533.89 453.92 Z" stroke="#111" stroke-width="1.0" fill="#fff"/><path d="M486.03 426.06 A143.5 143.5 0 0 1 462.16 390.40" stroke="#111" stroke-width="0.9" fill="none"/><path d="M528.42 456.83 A142.5 142.5 0 0 1 499.45 437.66" stroke="#111" stroke-width="0.9" fill="none"/><path d="M503.33 427.09 L491.35 441.87 L479.43 429.95 L494.21 417.97 Z" stroke="#111" stroke-width="1.0" fill="#fff"/><path d="M464.45 311.37 A128.8 128.8 0 0 1 495.53 243.95" stroke="#111" stroke-width="0.9" fill="none"/><path d="M460.79 310.86 A132.5 132.5 0 0 1 492.76 241.50" stroke="#333" stroke-width="1.7" fill="none"/><path d="M506.65 232.83 A128.8 128.8 0 0 1 571.85 202.09" stroke="#111" stroke-width="0.9" fill="none"/><path d="M504.20 230.06 A132.5 132.5 0 0 1 571.27 198.43" stroke="#333" stroke-width="1.7" fill="none"/><path d="M609.93 201.75 A128.8 128.8 0 0 1 677.35 232.83" stroke="#111" stroke-width="0.9" fill="none"/><path d="M610.44 198.09 A132.5 132.5 0 0 1 679.80 230.06" stroke="#333" stroke-width="1.7" fill="none"/><path d="M688.47 243.95 A128.8 128.8 0 0 1 719.21 309.15" stroke="#111" stroke-width="0.9" fill="none"/><path d="M691.24 241.50 A132.5 132.5 0 0 1 722.87 308.57" stroke="#333" stroke-width="1.7" fill="none"/><path d="M719.55 347.23 A128.8 128.8 0 0 1 688.47 414.65" stroke="#111" stroke-width="0.9" fill="none"/><path d="M723.21 347.74 A132.5 132.5 0 0 1 691.24 417.10" stroke="#333" stroke-width="1.7" fill="none"/><path d="M677.35 425.77 A128.8 128.8 0 0 1 612.15 456.51" stroke="#111" stroke-width="0.9" fill="none"/><path d="M679.80 428.54 A132.5 132.5 0 0 1 612.73 460.17" stroke="#333" stroke-width="1.7" fill="none"/><path d="M574.07 456.85 A128.8 128.8 0 0 1 506.65 425.77" stroke="#111" stroke-width="0.9" fill="none"/><path d="M573.56 460.51 A132.5 132.5 0 0 1 504.20 428.54" stroke="#333" stroke-width="1.7" fill="none"/><path d="M495.53 414.65 A128.8 128.8 0 0 1 464.79 349.45" stroke="#111" stroke-width="0.9" fill="none"/><path d="M492.76 417.10 A132.5 132.5 0 0 1 461.13 350.03" stroke="#333" stroke-width="1.7" fill="none"/><line x1="614.49" y1="351.79" x2="624.67" y2="361.97" stroke="#888" stroke-width="1.6"/><line x1="614.49" y1="351.79" x2="624.67" y2="361.97" stroke="#fff" stroke-width="0.7"/><line x1="628.98" y1="366.28" x2="640.22" y2="377.52" stroke="#888" stroke-width="1.6"/><line x1="628.98" y1="366.28" x2="640.22" y2="377.52" stroke="#fff" stroke-width="0.7"/><line x1="644.40" y1="381.70" x2="655.36" y2="392.66" stroke="#888" stroke-width="1.6"/><line x1="644.40" y1="381.70" x2="655.36" y2="392.66" stroke="#fff" stroke-width="0.7"/><line x1="659.46" y1="396.76" x2="669.92" y2="407.22" stroke="#888" stroke-width="1.6"/><line x1="659.46" y1="396.76" x2="669.92" y2="407.22" stroke="#fff" stroke-width="0.7"/><line x1="673.88" y1="411.18" x2="681.94" y2="419.24" stroke="#888" stroke-width="1.6"/><line x1="673.88" y1="411.18" x2="681.94" y2="419.24" stroke="#fff" stroke-width="0.7"/><rect x="537.5" y="451.7" width="109" height="12.8" rx="0" stroke="none" stroke-width="0" fill="#fff"/><line x1="539" y1="451" x2="645" y2="451" stroke="#111" stroke-width="1.1"/><path d="M515.6 466.6 V533 L521 538.8 H666 L670.6 533.5 V466.6" stroke="#111" stroke-width="1.4" fill="none"/><line x1="520.2" y1="467" x2="520.2" y2="535" stroke="#111" stroke-width="1.5"/><line x1="666.6" y1="467" x2="666.6" y2="535" stroke="#333" stroke-width="1.1"/><line x1="519.8" y1="535.2" x2="666.6" y2="535.2" stroke="#111" stroke-width="1.6"/><rect x="531" y="478.5" width="121.6" height="23.6" rx="0" stroke="#111" stroke-width="1.2" fill="none"/><circle cx="534.6" cy="520.2" r="6.0" stroke="#111" stroke-width="2.3" fill="none"/><line x1="529.1" y1="519" x2="540.1" y2="519" stroke="#222" stroke-width="1.1"/><line x1="529.1" y1="521.4" x2="540.1" y2="521.4" stroke="#222" stroke-width="1.1"/><circle cx="558.4" cy="520.2" r="6.0" stroke="#111" stroke-width="2.3" fill="none"/><line x1="552.9" y1="519" x2="563.9" y2="519" stroke="#222" stroke-width="1.1"/><line x1="552.9" y1="521.4" x2="563.9" y2="521.4" stroke="#222" stroke-width="1.1"/><circle cx="582.2" cy="520.2" r="6.0" stroke="#111" stroke-width="2.3" fill="none"/><line x1="576.7" y1="519" x2="587.7" y2="519" stroke="#222" stroke-width="1.1"/><line x1="576.7" y1="521.4" x2="587.7" y2="521.4" stroke="#222" stroke-width="1.1"/><circle cx="606" cy="520.2" r="6.3" stroke="#333" stroke-width="1.0" fill="none"/><circle cx="606" cy="520.2" r="5.0" stroke="#555" stroke-width="0.9" fill="none"/><line x1="601" y1="518.8" x2="611" y2="518.8" stroke="#333" stroke-width="0.9"/><line x1="601" y1="521.4" x2="611" y2="521.4" stroke="#333" stroke-width="0.9"/><path d="M603 517.5 L606 515.5 L609 517.5" stroke="#444" stroke-width="0.8" fill="none"/><circle cx="629.6" cy="520.2" r="6.3" stroke="#333" stroke-width="1.0" fill="none"/><circle cx="629.6" cy="520.2" r="5.0" stroke="#555" stroke-width="0.9" fill="none"/><line x1="624.6" y1="518.8" x2="634.6" y2="518.8" stroke="#333" stroke-width="0.9"/><line x1="624.6" y1="521.4" x2="634.6" y2="521.4" stroke="#333" stroke-width="0.9"/><path d="M626.6 517.5 L629.6 515.5 L632.6 517.5" stroke="#444" stroke-width="0.8" fill="none"/><circle cx="534.4" cy="508" r="2.8" fill="#333" stroke="#111" stroke-width="1.5"/><line x1="534.4" y1="504.3" x2="534.4" y2="511.7" stroke="#fff" stroke-width="0.8"/><text x="558.4" y="511.5" style="font-family:&quot;Liberation Sans&quot;,sans-serif" font-size="7.8" font-weight="bold" text-anchor="middle" fill="#111" stroke="#111" stroke-width="0.7" transform="translate(558.4 0) scale(0.8 1) translate(-558.4 0)">L1</text><rect x="580.4" y="504.3" width="3.8" height="7" rx="0" stroke="#111" stroke-width="0" fill="#111"/><text x="606" y="511.5" style="font-family:&quot;Liberation Sans&quot;,sans-serif" font-size="7.8" font-weight="bold" text-anchor="middle" fill="#111" stroke="#111" stroke-width="0.7" transform="translate(606 0) scale(0.8 1) translate(-606 0)">L2</text><text x="629.6" y="511.5" style="font-family:&quot;Liberation Sans&quot;,sans-serif" font-size="7.8" font-weight="bold" text-anchor="middle" fill="#111" stroke="#111" stroke-width="0.7" transform="translate(629.6 0) scale(0.8 1) translate(-629.6 0)">N2</text><rect x="602" y="539.2" width="8" height="1.6" rx="0" stroke="#111" stroke-width="0" fill="#222"/><rect x="626" y="539.2" width="8" height="1.6" rx="0" stroke="#111" stroke-width="0" fill="#222"/><text class="sf" x="160.5" y="163" font-size="26.7" font-weight="normal" fill="#111" textLength="14.6" lengthAdjust="spacingAndGlyphs" stroke="#111" stroke-width="0.7">R</text><text class="sf" x="173" y="163" font-size="26.7" font-weight="normal" fill="#111" textLength="15" lengthAdjust="spacingAndGlyphs" stroke="#111" stroke-width="0.7">K</text><text class="sf" x="187.2" y="163" font-size="26.7" font-weight="normal" fill="#111" textLength="15.8" lengthAdjust="spacingAndGlyphs" stroke="#111" stroke-width="0.7">T</text><text class="sf" x="202" y="163" font-size="26.7" font-weight="normal" fill="#111" textLength="17.4" lengthAdjust="spacingAndGlyphs" stroke="#111" stroke-width="0.7">O</text><text class="sf" x="219.4" y="163" font-size="26.7" font-weight="normal" fill="#111" textLength="15" lengthAdjust="spacingAndGlyphs" stroke="#111" stroke-width="0.7">0</text><text class="sf" x="234.8" y="163" font-size="26.7" font-weight="normal" fill="#111" textLength="10.4" lengthAdjust="spacingAndGlyphs" stroke="#111" stroke-width="0.7">1</text><text class="sf" x="247.3" y="163" font-size="26.7" font-weight="normal" fill="#111" textLength="11" lengthAdjust="spacingAndGlyphs" stroke="#111" stroke-width="0.7">1</text><line x1="133" y1="169.5" x2="279" y2="169.5" stroke="#ddd" stroke-width="1"/><text class="sf" x="539.2" y="155" font-size="19.5" font-weight="normal" fill="#111" textLength="10.6" lengthAdjust="spacingAndGlyphs" stroke="#111" stroke-width="0.75">R</text><text class="sf" x="548.5" y="155" font-size="19.5" font-weight="normal" fill="#111" textLength="13.2" lengthAdjust="spacingAndGlyphs" stroke="#111" stroke-width="0.75">H</text><text class="sf" x="559.6" y="155" font-size="19.5" font-weight="normal" fill="#111" textLength="10" lengthAdjust="spacingAndGlyphs" stroke="#111" stroke-width="0.75">V</text><text class="sf" x="568.4" y="155" font-size="19.5" font-weight="normal" fill="#111" textLength="11" lengthAdjust="spacingAndGlyphs" stroke="#111" stroke-width="0.75">L</text><text class="sf" x="591" y="155" font-size="19.5" font-weight="normal" fill="#111" textLength="9.5" lengthAdjust="spacingAndGlyphs" stroke="#111" stroke-width="0.75">0</text><text class="sf" x="601.3" y="155" font-size="19.5" font-weight="normal" fill="#111" textLength="9.2" lengthAdjust="spacingAndGlyphs" stroke="#111" stroke-width="0.75">3</text><text class="sf" x="611.3" y="155" font-size="19.5" font-weight="normal" fill="#111" textLength="8.6" lengthAdjust="spacingAndGlyphs" stroke="#111" stroke-width="0.75">1</text><text class="sf" x="54" y="629.8" font-size="34.6" font-weight="bold" fill="#111" textLength="12.8" lengthAdjust="spacingAndGlyphs" >L</text><text class="sf" x="54" y="686.3" font-size="34.6" font-weight="bold" fill="#111" textLength="14.2" lengthAdjust="spacingAndGlyphs" >N</text>
</svg></body></html>
